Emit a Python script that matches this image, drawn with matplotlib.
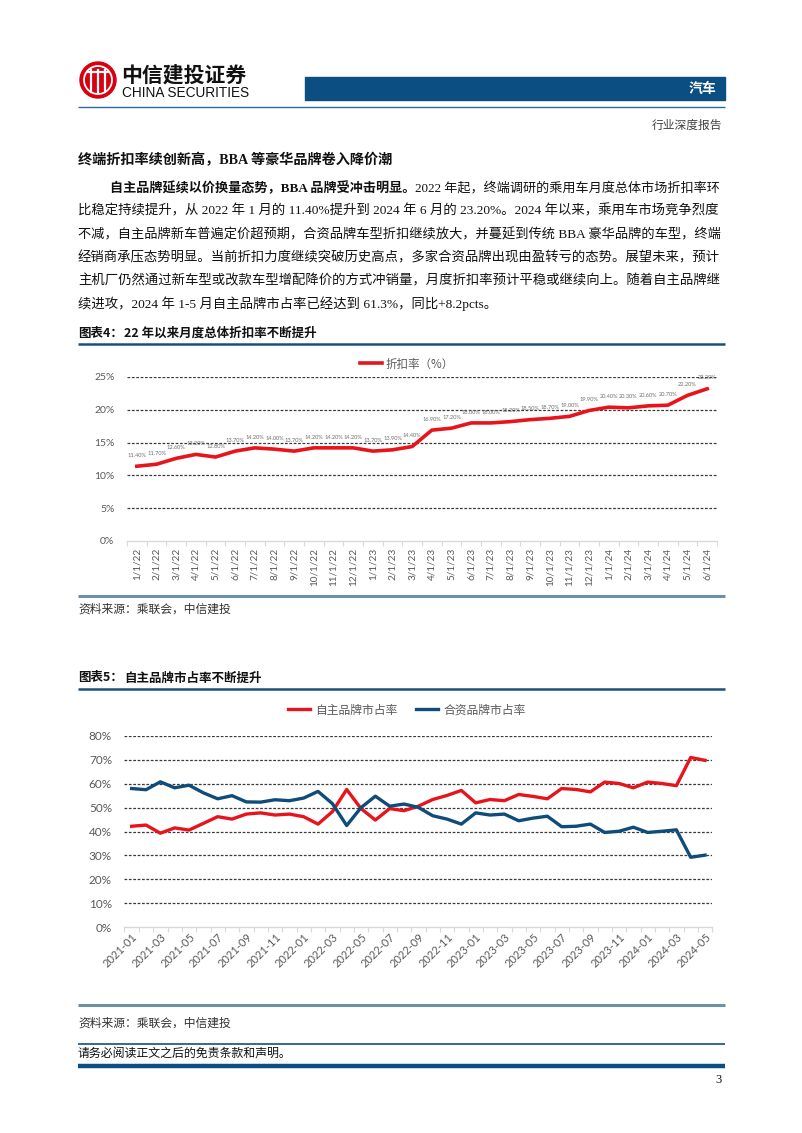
import matplotlib
matplotlib.use('Agg')
import matplotlib.pyplot as plt
from matplotlib.patches import Circle, Rectangle

plt.rcParams['font.family'] = ['Noto Sans CJK SC', 'DejaVu Sans']
SERIF = ['Liberation Serif', 'Noto Sans CJK SC']
SANS = ['Noto Sans CJK SC', 'DejaVu Sans']
NUM = ['Lato', 'Noto Sans CJK SC']

# chart 4: monthly discount rate (%)
discount_dates = ['1/1/22', '2/1/22', '3/1/22', '4/1/22', '5/1/22', '6/1/22',
                  '7/1/22', '8/1/22', '9/1/22', '10/1/22', '11/1/22', '12/1/22',
                  '1/1/23', '2/1/23', '3/1/23', '4/1/23', '5/1/23', '6/1/23',
                  '7/1/23', '8/1/23', '9/1/23', '10/1/23', '11/1/23', '12/1/23',
                  '1/1/24', '2/1/24', '3/1/24', '4/1/24', '5/1/24', '6/1/24']
discount_rate = [11.4, 11.7, 12.6, 13.2, 12.8, 13.7, 14.2, 14.0, 13.7, 14.2, 14.2, 14.2,
                 13.7, 13.9, 14.4, 16.9, 17.2, 18.0, 18.0, 18.2, 18.5, 18.7, 19.0, 19.9,
                 20.4, 20.3, 20.6, 20.7, 22.2, 23.2]

# chart 5: market share of domestic vs joint-venture brands (%)
share_months = [f'{y}-{m:02d}' for y in (2021, 2022, 2023) for m in range(1, 13)] + \
               ['2024-01', '2024-02', '2024-03', '2024-04', '2024-05']
share_own = [42.2, 42.7, 39.3, 41.5, 40.6, 43.4, 46.2, 45.2, 47.3, 47.8, 46.9, 47.3,
             46.2, 43.1, 48.3, 57.6, 49.6, 44.8, 49.6, 48.7, 50.6, 53.4, 55.1, 57.2,
             52.0, 53.4, 52.9, 55.5, 54.7, 53.7, 58.0, 57.6, 56.6, 60.7, 60.1, 58.3,
             60.7, 60.1, 59.2, 71.0, 69.8]
share_jv = [58.0, 57.5, 60.8, 58.3, 59.4, 56.2, 53.7, 55.0, 52.4, 52.3, 53.3, 52.9,
            54.0, 56.8, 51.7, 42.5, 50.0, 54.8, 50.6, 51.5, 50.1, 46.6, 45.2, 43.1,
            47.8, 46.9, 47.3, 44.5, 45.6, 46.4, 42.0, 42.2, 43.1, 39.6, 40.1, 41.8,
            39.6, 40.1, 40.7, 29.2, 30.1]

W, H = 802, 1133
fig = plt.figure(figsize=(W / 100, H / 100), dpi=100)
page = fig.add_axes([0, 0, 1, 1])
page.set_xlim(0, W)
page.set_ylim(H, 0)
page.axis('off')
renderer = fig.canvas.get_renderer()

BLUE = '#0B4F82'
GRAY = '#595959'


def hline(y, x0=78, x1=725, color=BLUE, lw=1.0):
    page.plot([x0, x1], [y, y], color=color, lw=lw, solid_capstyle='butt')


def line_of_text(y, parts, x0, x1=None, size=9.6, family=SERIF):
    # parts: list of (text, weight); stretch font size so the line fills x0..x1
    texts = [page.text(0, y, s, fontsize=size, fontweight=w, family=family,
                       va='center', ha='left', color='#111111') for s, w in parts]

    def layout():
        x = x0
        for t in texts:
            t.set_x(x)
            x += t.get_window_extent(renderer).width
        return x - x0

    width = layout()
    if x1 is not None:
        k = (x1 - x0) / width
        for t in texts:
            t.set_fontsize(size * k)
        layout()


# ---- header ----
page.add_patch(Circle((98, 80), 18, color='#D7000F'))
page.add_patch(Circle((98, 80), 14, fill=False, ec='white', lw=1.3))
for xx in (91, 98, 105):
    page.plot([xx, xx], [70, 92], color='white', lw=1.6)
page.plot([88, 108], [72, 72], color='white', lw=1.6)
page.text(121, 75, '中信建投证券', fontsize=15, fontweight='heavy', family=SANS,
          va='center', ha='left', color='#111111')
t = page.text(122, 93, 'CHINA SECURITIES', fontsize=9.5, family=['Liberation Sans'],
              va='center', ha='left', color='#111111')
t.set_fontsize(9.5 * 128 / t.get_window_extent(renderer).width)
page.add_patch(Rectangle((305, 77), 420, 23, color=BLUE))
page.text(716, 88.5, '汽车', fontsize=10, fontweight='bold', family=SANS,
          va='center', ha='right', color='white')
hline(107, color='#2B6A99', lw=1.0)
page.text(722, 126, '行业深度报告', fontsize=8.5, family=SERIF, va='center',
          ha='right', color='#404040')

# ---- body text ----
page.text(78, 160, '终端折扣率续创新高，BBA 等豪华品牌卷入降价潮', fontsize=10.2,
          fontweight='bold', family=SERIF, va='center', ha='left', color='#111111')

para = [
    [('自主品牌延续以价换量态势，BBA 品牌受冲击明显。', 'bold'),
     ('2022 年起，终端调研的乘用车月度总体市场折扣率环', 'normal')],
    [('比稳定持续提升，从 2022 年 1 月的 11.40%提升到 2024 年 6 月的 23.20%。2024 年以来，乘用车市场竞争烈度', 'normal')],
    [('不减，自主品牌新车普遍定价超预期，合资品牌车型折扣继续放大，并蔓延到传统 BBA 豪华品牌的车型，终端', 'normal')],
    [('经销商承压态势明显。当前折扣力度继续突破历史高点，多家合资品牌出现由盈转亏的态势。展望未来，预计', 'normal')],
    [('主机厂仍然通过新车型或改款车型增配降价的方式冲销量，月度折扣率预计平稳或继续向上。随着自主品牌继', 'normal')],
    [('续进攻，2024 年 1-5 月自主品牌市占率已经达到 61.3%，同比+8.2pcts。', 'normal')],
]
for i, parts in enumerate(para):
    y = 188 + i * 23.2
    x0 = 110 if i == 0 else 78
    x1 = None if i == len(para) - 1 else 721
    line_of_text(y, parts, x0, x1)


def fig_title(y, label, title):
    page.text(78, y, label, fontsize=9, fontweight='bold', family=SANS,
              va='center', ha='left', color='#111111')
    page.text(124, y, title, fontsize=9, fontweight='bold', family=SANS,
              va='center', ha='left', color='#111111')
    hline(y + 11, color='#1F4E79', lw=1.8)


def style_axis(ax, n):
    for s in ('top', 'right', 'left'):
        ax.spines[s].set_visible(False)
    ax.spines['bottom'].set_color('#D9D9D9')
    ax.spines['bottom'].set_linewidth(1.0)
    ax.set_xlim(-0.5, n - 0.5)
    ax.set_xticks([i - 0.5 for i in range(n + 1)], minor=True)
    ax.tick_params(axis='x', which='minor', length=3.5, color='#D9D9D9', width=0.8)
    ax.tick_params(axis='x', which='major', length=0, colors=GRAY)
    ax.tick_params(axis='y', length=0, colors=GRAY, pad=9)
    ax.patch.set_alpha(0)


# ---- chart 4 ----
fig_title(333, '图表4：', '22 年以来月度总体折扣率不断提升')
ax1 = fig.add_axes([127 / W, 1 - 541 / H, 590 / W, 164 / H])
n1 = len(discount_rate)
style_axis(ax1, n1)
ax1.set_ylim(0, 25)
for v in range(5, 26, 5):
    ax1.axhline(v, color='#3A3A3A', lw=0.9, ls=(0, (2.2, 1.3)), zorder=1)
ax1.plot(range(n1), discount_rate, color='#E8141B', lw=2.6, zorder=3,
         solid_joinstyle='round', label='折扣率（%）')
for i, v in enumerate(discount_rate):
    ax1.annotate(f'{v:.2f}%', (i, v), xytext=(0, 6), textcoords='offset points',
                 ha='center', va='bottom', fontsize=4.1, color='#6E6E6E', family=NUM)
ax1.set_yticks(range(0, 26, 5))
ax1.set_yticklabels([f'{v}%' for v in range(0, 26, 5)], fontsize=7.5, family=NUM)
ax1.set_xticks(range(n1))
ax1.set_xticklabels(discount_dates, rotation=90, fontsize=7.2, family=NUM)
ax1.tick_params(axis='x', pad=5)
leg = ax1.legend(loc='center', bbox_to_anchor=(0.475, 1 + 13 / 164), frameon=False,
                 fontsize=8.3, handlelength=1.9, handletextpad=0.3, borderaxespad=0)
for txt in leg.get_texts():
    txt.set_color(GRAY)
hline(596, color='#6F8FA6', lw=2.2)
page.text(78, 610, '资料来源：乘联会，中信建投', fontsize=8.5, family=SERIF,
          va='center', ha='left', color='#333333', style='italic')

# ---- chart 5 ----
fig_title(678, '图表5：', '自主品牌市占率不断提升')
ax2 = fig.add_axes([124.5 / W, 1 - 927 / H, 587.7 / W, 191 / H])
n2 = len(share_own)
style_axis(ax2, n2)
ax2.set_ylim(0, 80)
for v in range(10, 81, 10):
    ax2.axhline(v, color='#3A3A3A', lw=0.9, ls=(0, (2.2, 1.3)), zorder=1)
ax2.plot(range(n2), share_own, color='#E8141B', lw=2.4, zorder=3,
         solid_joinstyle='round', label='自主品牌市占率')
ax2.plot(range(n2), share_jv, color='#0F4C7A', lw=2.4, zorder=3,
         solid_joinstyle='round', label='合资品牌市占率')
ax2.set_yticks(range(0, 81, 10))
ax2.set_yticklabels([f'{v}%' for v in range(0, 81, 10)], fontsize=8.5, family=NUM)
ax2.set_xticks(range(0, n2, 2))
ax2.set_xticklabels(share_months[::2], rotation=45, ha='right',
                    rotation_mode='anchor', fontsize=8, family=NUM)
ax2.tick_params(axis='x', pad=3)
leg = ax2.legend(loc='center', bbox_to_anchor=(0.48, 1 + 26 / 191), frameon=False,
                 ncol=2, fontsize=8.5, handlelength=1.9, handletextpad=0.4,
                 columnspacing=1.6, borderaxespad=0)
for txt in leg.get_texts():
    txt.set_color(GRAY)
hline(1005, color='#6F8FA6', lw=2.2)
page.text(78, 1024, '资料来源：乘联会，中信建投', fontsize=8.5, family=SERIF,
          va='center', ha='left', color='#333333', style='italic')

# ---- footer ----
hline(1044, color='#1F5F8F', lw=1.3)
page.text(78, 1054, '请务必阅读正文之后的免责条款和声明。', fontsize=8.6, family=SERIF,
          va='center', ha='left', color='#111111')
hline(1066, color=BLUE, lw=3.2)
page.text(722, 1080, '3', fontsize=9, family=SERIF, va='center', ha='right',
          color='#111111')

fig.savefig('out.png', dpi=100)
